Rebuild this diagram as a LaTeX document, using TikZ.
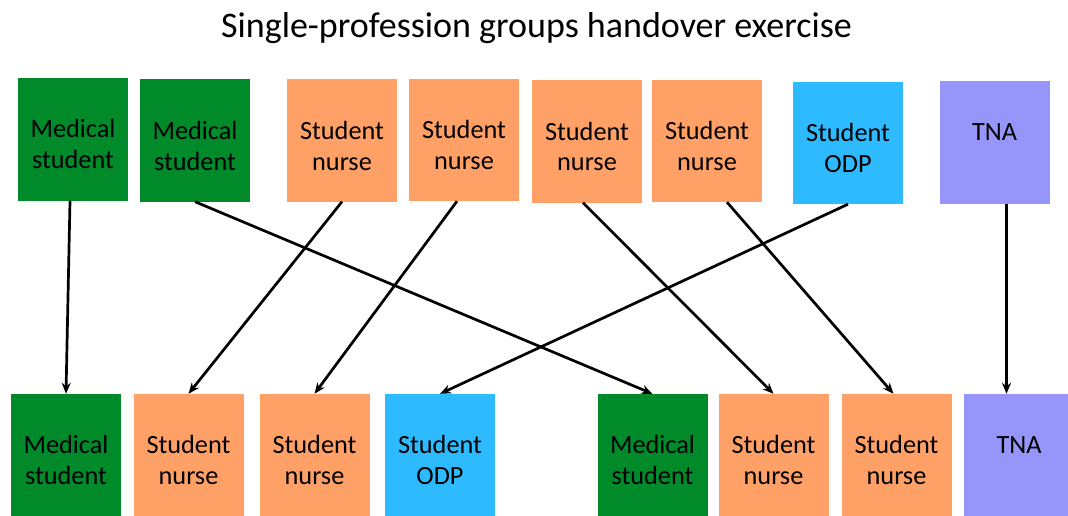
\documentclass[tikz,border=0pt]{standalone}
\usepackage{fontspec}
\setmainfont{Carlito}
\usetikzlibrary{arrows.meta}

\definecolor{medgreen}{RGB}{0,138,42}
\definecolor{nurseorange}{RGB}{255,160,102}
\definecolor{odpblue}{RGB}{46,186,255}
\definecolor{tnapurple}{RGB}{150,150,250}

% text hangs from the top of each box
\newcommand{\boxtext}[1]{\parbox[c][122pt][t]{110pt}{\centering\rule{0pt}{59.5pt}#1}}

\tikzset{
  role/.style={rectangle, inner sep=0pt, minimum width=110pt, minimum height=122pt,
    font=\fontsize{26.3}{31}\selectfont},
  med/.style={role, fill=medgreen},
  nurse/.style={role, fill=nurseorange},
  odp/.style={role, fill=odpblue},
  tna/.style={role, fill=tnapurple},
  handover/.style={->, line width=2.7pt}
}

\begin{document}
\begin{tikzpicture}[x=1pt, y=-1pt, >={Stealth[length=11pt,width=9pt]}]
    \useasboundingbox (0,0) rectangle (1068,516);
    \clip (0,0) rectangle (1068,516);

    \node (title) at (536.5,28.5) {\fontsize{36}{43}\selectfont Single-profession groups handover exercise};

    % Groups before handover
    \node[med]   (t1) at (73,139.5)  {\boxtext{Medical\\student}};
    \node[med]   (t2) at (195,140.5) {\boxtext{Medical\\student}};
    \node[nurse] (t3) at (342,140.5) {\boxtext{Student\\nurse}};
    \node[nurse] (t4) at (464,140)   {\boxtext{Student\\nurse}};
    \node[nurse] (t5) at (587,141.5) {\boxtext{Student\\nurse}};
    \node[nurse] (t6) at (707,141)   {\boxtext{Student\\nurse}};
    \node[odp]   (t7) at (848,143)   {\boxtext{Student\\ODP}};
    \node[tna]   (t8) at (994.5,142.5) {\boxtext{TNA}};

    % Groups after handover
    \node[med]   (b1) at (66,455)    {\boxtext{Medical\\student}};
    \node[nurse] (b2) at (188.5,455) {\boxtext{Student\\nurse}};
    \node[nurse] (b3) at (314.5,455) {\boxtext{Student\\nurse}};
    \node[odp]   (b4) at (440,455)   {\boxtext{Student\\ODP}};
    \node[med]   (b5) at (652.5,455) {\boxtext{Medical\\student}};
    \node[nurse] (b6) at (773.5,455) {\boxtext{Student\\nurse}};
    \node[nurse] (b7) at (896.5,455) {\boxtext{Student\\nurse}};
    \node[tna]   (b8) at (1019,455)  {\boxtext{TNA}};

    % Who hands over to whom
    \draw[handover] ([xshift=-3pt]t1.south) -- (b1.north);
    \draw[handover] (t2.south) -- (b5.north);
    \draw[handover] (t3.south) -- (b2.north);
    \draw[handover] ([xshift=-7pt]t4.south) -- (b3.north);
    \draw[handover] ([xshift=-4pt]t5.south) -- (b6.north);
    \draw[handover] ([xshift=20pt]t6.south) -- ([xshift=-3pt]b7.north);
    \draw[handover] (t7.south) -- (b4.north);
    \draw[handover] ([xshift=12pt]t8.south) -- ([xshift=12pt]t8.south |- b8.north);
\end{tikzpicture}
\end{document}
